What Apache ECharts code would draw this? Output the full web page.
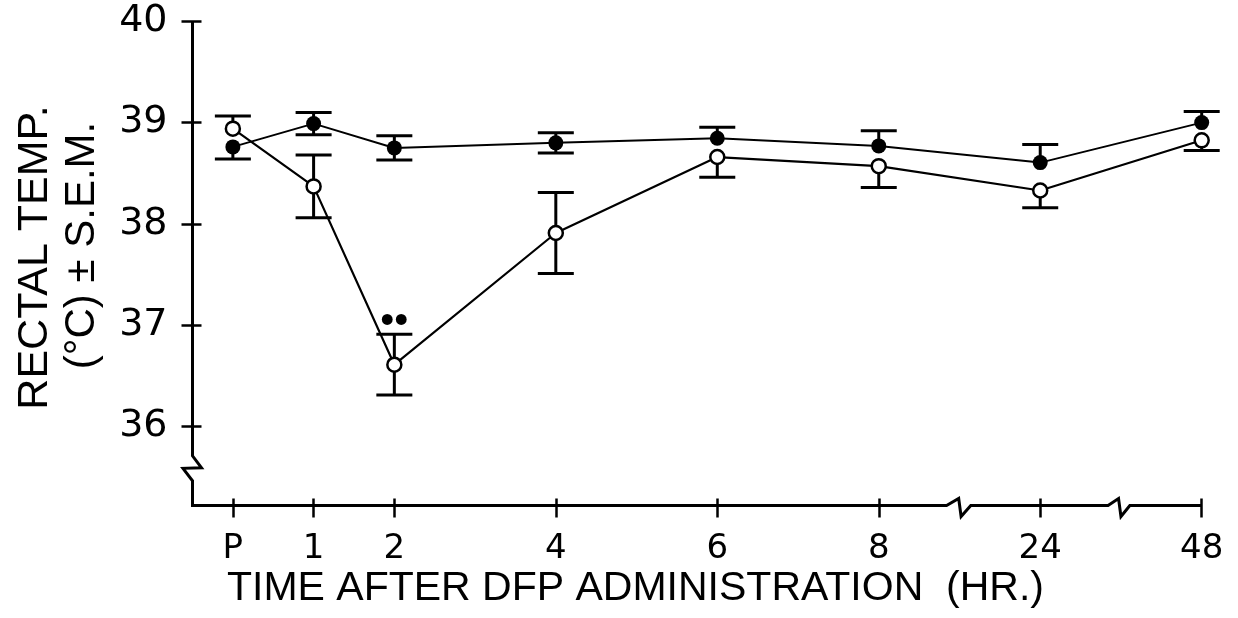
<!DOCTYPE html>
<html><head><meta charset="utf-8">
<script src="https://cdn.jsdelivr.net/npm/echarts@6/dist/echarts.min.js"></script>
<style>html,body{margin:0;padding:0;background:#fff}#c{width:1238px;height:618px}</style>
</head><body><div id="c"></div>
<script>
// ---- data ----
const timeLabels = ['P', '1', '2', '4', '6', '8', '24', '48'];
const timePos = [0, 1, 2, 4, 6, 8, 10, 12]; // scale slot on the broken time axis
const filledMean = [38.76, 38.99, 38.75, 38.80, 38.845, 38.77, 38.605, 39.00];
const filledSem  = [0.12, 0.11, 0.12, 0.10, 0.11, 0.15, 0.18, 0.11];
const filledBarSide = ['down', 'both', 'both', 'both', 'up', 'up', 'up', 'up'];
const openMean = [38.94, 38.37, 36.61, 37.91, 38.66, 38.57, 38.33, 38.825];
const openSem  = [0.125, 0.31, 0.30, 0.40, 0.20, 0.21, 0.17, 0.10];
const openBarSide = ['up', 'both', 'both', 'both', 'down', 'down', 'down', 'down'];
const openSignif = ['', '', '••', '', '', '', '', ''];
const yTicks = [36, 37, 38, 39, 40];
const yTitle1 = 'RECTAL TEMP.';
const yTitle2 = '(°C) ± S.E.M.';
const xTitle = 'TIME AFTER DFP ADMINISTRATION  (HR.)';

const FONT = "'Liberation Sans', Arial, sans-serif";
const NUMFONT = "'DejaVu Sans', sans-serif";
const INK = '#000';
const chart = echarts.init(document.getElementById('c'), null, {renderer: 'canvas'});

function errRender(sems, sides, signif) {
  return function (params, api) {
    const i = params.dataIndex;
    const x = api.value(0), m = api.value(1);
    const s = sems[i], side = sides[i];
    const hi = side === 'down' ? m : m + s;
    const lo = side === 'up' ? m : m - s;
    const pHi = api.coord([x, hi]), pLo = api.coord([x, lo]);
    const half = 18;
    const st = {stroke: INK, lineWidth: 3};
    const ch = [{type: 'line', shape: {x1: pHi[0], y1: pHi[1], x2: pLo[0], y2: pLo[1]}, style: st}];
    if (side !== 'down') ch.push({type: 'line', shape: {x1: pHi[0] - half, y1: pHi[1], x2: pHi[0] + half, y2: pHi[1]}, style: st});
    if (side !== 'up') ch.push({type: 'line', shape: {x1: pLo[0] - half, y1: pLo[1], x2: pLo[0] + half, y2: pLo[1]}, style: st});
    if (signif && signif[i]) {
      ch.push({type: 'text', style: {text: signif[i], x: pHi[0], y: pHi[1] - 12, align: 'center', verticalAlign: 'middle',
        font: '40px ' + FONT, fill: INK}});
    }
    return {type: 'group', children: ch};
  };
}

const tickStyle = {color: INK, width: 2.5};
const baseX = {type: 'value', min: -0.5, max: 12, gridIndex: 0, position: 'bottom',
  axisLine: {show: false, onZero: false}, splitLine: {show: false}};
const baseY = {type: 'value', min: 35.22, max: 40, gridIndex: 0, position: 'left',
  axisLine: {show: false, onZero: false}, splitLine: {show: false}};

chart.setOption({
  animation: false,
  backgroundColor: '#fff',
  grid: {left: 192.5, right: 36.3, top: 21.3, bottom: 112.5, containLabel: false},
  xAxis: [
    Object.assign({}, baseX, {
      axisTick: {show: true, customValues: timePos, length: 12, lineStyle: tickStyle},
      axisLabel: {customValues: timePos, formatter: v => timeLabels[timePos.indexOf(v)], margin: 27,
        fontSize: 34, color: INK, fontFamily: NUMFONT}
    }),
    Object.assign({}, baseX, {
      axisTick: {show: true, inside: true, customValues: timePos, length: 7, lineStyle: tickStyle},
      axisLabel: {show: false}
    })
  ],
  yAxis: [
    Object.assign({}, baseY, {
      axisTick: {show: true, customValues: yTicks, length: 11, lineStyle: tickStyle},
      axisLabel: {customValues: yTicks, margin: 25, fontSize: 38, color: INK, fontFamily: NUMFONT}
    }),
    Object.assign({}, baseY, {
      axisTick: {show: true, inside: true, customValues: yTicks, length: 9, lineStyle: tickStyle},
      axisLabel: {show: false}
    })
  ],
  series: [
    {type: 'custom', z: 1, xAxisIndex: 0, yAxisIndex: 0, renderItem: errRender(filledSem, filledBarSide),
      data: timePos.map((p, i) => [p, filledMean[i]])},
    {type: 'custom', z: 1, xAxisIndex: 0, yAxisIndex: 0, renderItem: errRender(openSem, openBarSide, openSignif),
      data: timePos.map((p, i) => [p, openMean[i]])},
    {type: 'line', z: 3, xAxisIndex: 0, yAxisIndex: 0, symbol: 'circle', symbolSize: 15,
      lineStyle: {color: INK, width: 2}, itemStyle: {color: INK},
      data: timePos.map((p, i) => [p, filledMean[i]])},
    {type: 'line', z: 4, xAxisIndex: 0, yAxisIndex: 0, symbol: 'circle', symbolSize: 14,
      lineStyle: {color: INK, width: 2.2}, itemStyle: {color: '#fff', borderColor: INK, borderWidth: 2.5},
      data: timePos.map((p, i) => [p, openMean[i]])}
  ]
});

// axis lines with break marks, placed through the axes' own scales
const px = (x, y) => chart.convertToPixel({xAxisIndex: 0, yAxisIndex: 0}, [x, y]);
const xL = px(-0.5, 40)[0];
const yT = px(-0.5, 40)[1];
const yB = px(-0.5, 35.22)[1];
const yBr = px(-0.5, 35.71)[1];
const xr = v => px(v, 36)[0];
const pts = [
  [xL, yT], [xL, yBr], [xL + 9, yBr + 12], [xL - 9.5, yBr + 12.5], [xL, yBr + 25], [xL, yB],
  [xr(8.84), yB], [xr(8.99), yB - 7], [xr(9.02), yB + 11], [xr(9.14), yB],
  [xr(10.84), yB], [xr(10.97), yB - 7], [xr(11.0), yB + 11], [xr(11.11), yB],
  [xr(12), yB]
];
chart.setOption({
  graphic: [
    {type: 'polyline', shape: {points: pts}, style: {stroke: INK, lineWidth: 3, fill: null}, z: 5},
    {type: 'text', x: 227, y: 589, style: {text: xTitle, font: '41px ' + FONT, fill: INK, align: 'left', verticalAlign: 'middle'}},
    {type: 'text', x: 35, y: 257.5, rotation: Math.PI / 2,
      style: {text: yTitle1, font: '43px ' + FONT, fill: INK, align: 'center', verticalAlign: 'middle'}},
    {type: 'text', x: 82, y: 245.5, rotation: Math.PI / 2,
      style: {text: yTitle2, font: '42px ' + FONT, fill: INK, align: 'center', verticalAlign: 'middle'}}
  ]
});
</script>
</body></html>
